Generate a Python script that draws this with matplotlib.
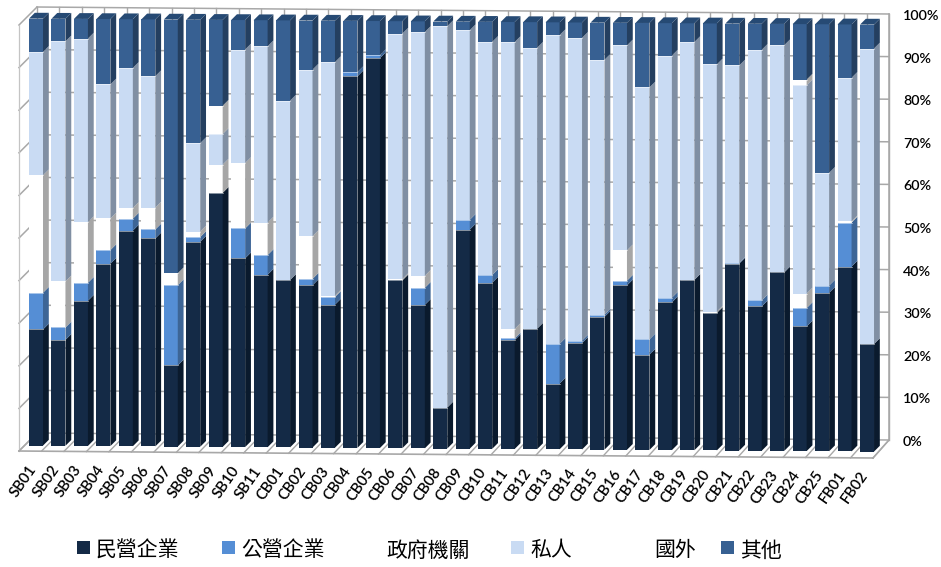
"""Stacked 100% bars with an Excel-style 3D look, drawn on a pixel-sized axes."""

from matplotlib import pyplot as plt
from matplotlib.patches import Polygon, Rectangle

plt.switch_backend("Agg")

CATEGORIES = [
    "SB01", "SB02", "SB03", "SB04", "SB05", "SB06", "SB07", "SB08", "SB09", "SB10", "SB11",
    "CB01", "CB02", "CB03", "CB04", "CB05", "CB06", "CB07", "CB08", "CB09", "CB10", "CB11",
    "CB12", "CB13", "CB14", "CB15", "CB16", "CB17", "CB18", "CB19", "CB20", "CB21", "CB22",
    "CB23", "CB24", "CB25", "FB01", "FB02",
]

private_ent = [27.2, 24.8, 34.0, 42.7, 50.5, 48.7, 19.0, 48.0, 59.5, 44.2, 40.4, 39.2, 38.0,
               33.5, 87.0, 91.3, 39.3, 33.6, 9.6, 51.3, 38.9, 25.5, 28.2, 15.4, 24.9, 31.1,
               38.5, 22.3, 34.6, 39.9, 32.2, 43.8, 33.8, 41.8, 29.2, 37.1, 43.3, 25.2]
public_ent = [8.6, 2.9, 4.2, 3.2, 2.8, 2.1, 18.8, 1.1, 0, 7.0, 4.6, 0, 1.5,
              1.8, 1.0, 0.7, 0, 4.0, 0, 2.3, 1.8, 0.4, 0, 9.3, 0.6, 0.5,
              1.1, 3.6, 1.1, 0, 0, 0.2, 1.4, 0, 4.3, 1.7, 10.3, 0]
government = [27.5, 10.8, 14.2, 7.4, 2.5, 5.1, 2.8, 1.3, 6.6, 15.3, 7.6, 0, 10.0,
              0.3, 0, 0, 0.3, 2.8, 0, 0, 0, 2.2, 0, 0, 0, 0,
              7.1, 0, 0, 0, 0.3, 0, 0, 0, 3.4, 0, 0.3, 0]
individual = [28.9, 56.2, 43.0, 31.4, 32.8, 30.8, 0, 20.7, 7.2, 26.6, 41.3, 42.0, 39.0,
              54.7, 0, 0, 57.5, 57.1, 89.3, 44.4, 54.6, 67.2, 65.8, 72.3, 70.9, 59.7,
              48.0, 59.0, 56.7, 55.7, 57.9, 46.2, 58.7, 53.2, 48.8, 26.4, 33.6, 69.2]
foreign = [0, 0, 0, 0, 0, 0, 0, 0, 6.6, 0, 0, 0, 0,
           0, 0, 0, 0, 0, 0, 0, 0, 0, 0, 0, 0, 0,
           0, 0, 0, 0, 0, 0, 0, 0, 1.3, 0, 0, 0]
other = [7.8, 5.3, 4.6, 15.3, 11.4, 13.3, 59.4, 28.9, 20.1, 6.9, 6.1, 18.8, 11.5,
         9.7, 12.0, 8.0, 2.9, 2.5, 1.1, 2.0, 4.7, 4.7, 6.0, 3.0, 3.6, 8.7,
         5.3, 15.1, 7.6, 4.4, 9.6, 9.8, 6.1, 5.0, 13.0, 34.8, 12.5, 5.6]

SERIES = [private_ent, public_ent, government, individual, foreign, other]
LEGEND_LABELS = ["民營企業", "公營企業", "政府機關", "私人", "國外", "其他"]
Y_TICKS = [0, 10, 20, 30, 40, 50, 60, 70, 80, 90, 100]

FRONT = ["#142a46", "#558ed5", "#ffffff", "#c9dbf3", "#ffffff", "#376092"]
SIDE = ["#0a1a2d", "#3d6596", "#a6a6a6", "#808fa3", "#a6a6a6", "#243f60"]
TOP_FACE = "#264a74"
GRID = "#a8a8a8"

# geometry of the fake 3D box, in pixels
BAR_LEFT = 29
BAR_STEP = 22.46
BAR_W = 14
DEPTH = 5.8
BASE_Y = 445.6
BASE_TILT = 0.162  # bars drift down going right
PX_PER_PCT = 4.27

plt.rcParams["font.family"] = ["Lato", "Noto Sans CJK TC", "DejaVu Sans"]

fig = plt.figure(figsize=(9.41, 5.67), dpi=100)
ax = fig.add_axes([0, 0, 1, 1])
ax.set_xlim(0, 941)
ax.set_ylim(567, 0)
ax.set_axis_off()


def bar_y(i, pct):
    return BASE_Y + BASE_TILT * i - PX_PER_PCT * pct


def wall_y(x, pct):
    """Height on the back wall, which tilts the same way as the bars."""
    return 433 + (x - 37) * 7 / 852 - 4.26 * pct


def draw_box():
    for pct in Y_TICKS:
        ax.plot([37, 889], [wall_y(37, pct), wall_y(889, pct)], color=GRID, lw=1.1, zorder=1)
        ax.plot([19, 37], [wall_y(37, pct) + 18, wall_y(37, pct)], color=GRID, lw=1.1, zorder=1)
    ax.plot([19, 19], [wall_y(37, 100) + 18, wall_y(37, 0) + 18], color="#c4c4c4", lw=0.9, zorder=1)
    ax.plot([889, 889], [wall_y(889, 100), wall_y(889, 0)], color=GRID, lw=1.1, zorder=1)
    ax.plot([19, 873], [451, 458], color=GRID, lw=1.2, zorder=1)
    ax.plot([873, 889], [458, wall_y(889, 0)], color=GRID, lw=1.1, zorder=1)
    for k in range(len(CATEGORIES) + 1):
        x_back = 37 + k * 852 / len(CATEGORIES)
        ax.plot([x_back, x_back], [wall_y(x_back, 0), wall_y(x_back, 100)], color=GRID, lw=1.0, zorder=1)
        x_front = 19 + k * 854 / len(CATEGORIES)
        ax.plot([x_front, x_back], [451 + (x_front - 19) * 7 / 854, wall_y(x_back, 0)],
                color=GRID, lw=1.0, zorder=1)


def draw_bar(i):
    x0 = BAR_LEFT + BAR_STEP * i
    x1 = x0 + BAR_W
    z = 3 + i * 0.01
    bottom = 0
    for s, values in enumerate(SERIES):
        top = bottom + values[i]
        if values[i] > 0:
            y0, y1 = bar_y(i, bottom), bar_y(i, top)
            ax.add_patch(Polygon([(x0, y0), (x1, y0), (x1, y1), (x0, y1)], closed=True,
                                 fc=FRONT[s], ec="none", zorder=z))
            ax.add_patch(Polygon([(x1, y0), (x1 + DEPTH, y0 - DEPTH), (x1 + DEPTH, y1 - DEPTH), (x1, y1)],
                                 closed=True, fc=SIDE[s], ec="none", zorder=z))
            if top < 99.9:
                ax.plot([x0, x1], [y1, y1], color="white", lw=0.5, alpha=0.7, zorder=z + 0.001)
        bottom = top
    y_top = bar_y(i, 100)
    ax.add_patch(Polygon([(x0, y_top), (x1, y_top), (x1 + DEPTH, y_top - DEPTH), (x0 + DEPTH, y_top - DEPTH)],
                         closed=True, fc=TOP_FACE, ec="none", zorder=z))
    ax.text(x0 + 5, BASE_Y + BASE_TILT * i + 21, CATEGORIES[i], rotation=55, rotation_mode="anchor",
            ha="right", va="center", fontsize=10.8, weight="semibold", color="black")


draw_box()
for i in range(len(CATEGORIES)):
    draw_bar(i)

for pct in Y_TICKS:
    ax.text(903, wall_y(889, pct) + 2, f"{pct}%", ha="left", va="center", fontsize=10.3,
            weight="semibold", color="black")

legend_x = [77, 222, 367, 511, 635, 721]
for x, label, color in zip(legend_x, LEGEND_LABELS, FRONT):
    ax.add_patch(Rectangle((x, 541), 13, 13, fc=color, ec="none"))
    ax.text(x + 19, 550.5, label, ha="left", va="center", fontsize=15, color="black", weight="medium",
            family=["Noto Sans CJK TC", "DejaVu Sans"])

fig.savefig("out.png", dpi=100)
plt.close(fig)
